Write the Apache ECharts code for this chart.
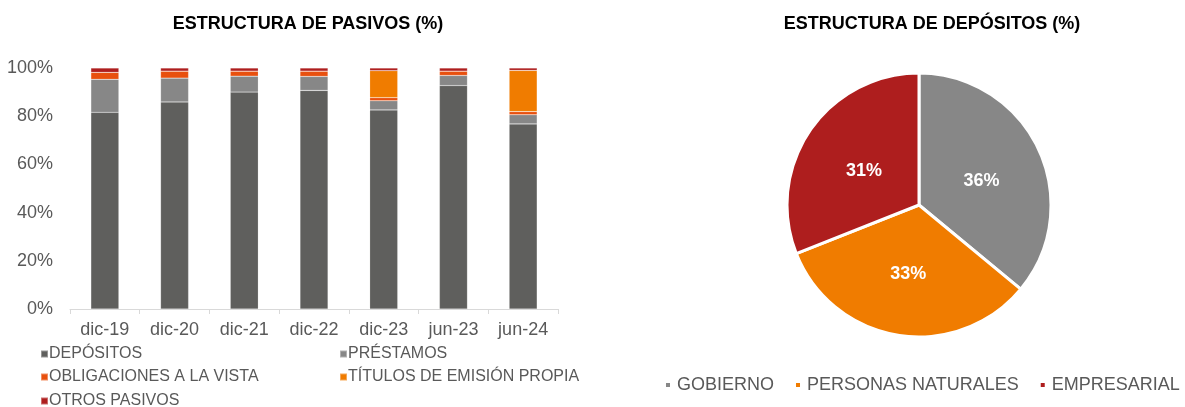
<!DOCTYPE html>
<html>
<head>
<meta charset="utf-8">
<script src="https://cdn.jsdelivr.net/npm/echarts@6/dist/echarts.min.js"></script>
<style>
  html, body { margin: 0; padding: 0; background: #fff; }
  #main { width: 1185px; height: 407px; }
</style>
</head>
<body>
<div id="main"></div>
<script>
// datos
var periodos = ['dic-19', 'dic-20', 'dic-21', 'dic-22', 'dic-23', 'jun-23', 'jun-24'];
var depositos = [81.6, 85.9, 90.0, 90.7, 82.6, 92.7, 76.8];
var prestamos = [13.7, 9.9, 6.6, 5.8, 3.8, 4.2, 3.8];
var obligaciones = [2.9, 2.9, 2.1, 2.2, 1.3, 1.8, 1.3];
var titulos = [0, 0, 0, 0, 11.2, 0, 17.1];
var otros = [1.8, 1.3, 1.3, 1.3, 1.1, 1.3, 1.0];

var tiposDeposito = ['GOBIERNO', 'PERSONAS NATURALES', 'EMPRESARIAL'];
var partDeposito = [36, 33, 31];

var myChart = echarts.init(document.getElementById('main'));

var font = 'Liberation Sans, Arial, sans-serif';
var colores = ['#5F5F5D', '#878787', '#E8500E', '#F07C00', '#AE1E1E'];
var nombres = ['DEPÓSITOS', 'PRÉSTAMOS', 'OBLIGACIONES A LA VISTA', 'TÍTULOS DE EMISIÓN PROPIA', 'OTROS PASIVOS'];
var valores = [depositos, prestamos, obligaciones, titulos, otros];

// leyenda de barras en dos columnas
var legendPos = [[40, 346], [339, 346], [40, 369], [339, 369], [40, 393]];
var legends = [];
for (var i in nombres) {
    legends.push({
        data: [nombres[i]],
        left: legendPos[i][0],
        top: legendPos[i][1],
        icon: 'rect',
        itemWidth: 7,
        itemHeight: 7,
        itemGap: 0,
        padding: 0,
        textStyle: { color: '#595959', fontSize: 16, fontFamily: font, padding: [0, 0, 0, -4] }
    });
}
legends.push({
    data: tiposDeposito,
    left: 664,
    top: 376,
    icon: 'rect',
    itemWidth: 6,
    itemHeight: 6,
    itemGap: 20,
    padding: 0,
    textStyle: { color: '#595959', fontSize: 18, fontFamily: font, padding: [0, 0, 0, 1] }
});

var series = [];
for (var j in nombres) {
    series.push({
        name: nombres[j],
        type: 'bar',
        stack: 'pasivos',
        barWidth: 28,
        itemStyle: { color: colores[j], borderColor: 'rgba(255,255,255,0.35)', borderWidth: 0.5 },
        data: valores[j]
    });
}

var pieData = [];
var pieColores = ['#878787', '#F07C00', '#AE1E1E'];
var pieOffset = [[0, 5], [0, 1], [2, 5]];
for (var k in tiposDeposito) {
    pieData.push({
        name: tiposDeposito[k],
        value: partDeposito[k],
        itemStyle: { color: pieColores[k] },
        label: { offset: pieOffset[k] }
    });
}
series.push({
    name: 'depositos',
    type: 'pie',
    center: [919, 205],
    radius: [0, 132],
    startAngle: 90,
    clockwise: true,
    itemStyle: { borderColor: '#fff', borderWidth: 3 },
    label: {
        position: 'inside',
        formatter: '{c}%',
        color: '#fff',
        fontSize: 18,
        fontWeight: 'bold',
        fontFamily: font
    },
    labelLine: { show: false },
    emphasis: { disabled: true },
    data: pieData
});

var option = {
    animation: false,
    title: [
        {
            text: 'ESTRUCTURA DE PASIVOS (%)',
            left: 303, top: 10, textAlign: 'center',
            textStyle: { color: '#000', fontSize: 18, fontWeight: 'bold', fontFamily: font }
        },
        {
            text: 'ESTRUCTURA DE DEPÓSITOS (%)',
            left: 927, top: 10, textAlign: 'center',
            textStyle: { color: '#000', fontSize: 18, fontWeight: 'bold', fontFamily: font }
        }
    ],
    legend: legends,
    grid: { left: 70, top: 68, width: 488, height: 241 },
    xAxis: {
        type: 'category',
        data: periodos,
        axisLine: { lineStyle: { color: '#D9D9D9' } },
        axisTick: { show: true, length: 5, lineStyle: { color: '#D9D9D9' } },
        axisLabel: { color: '#595959', fontSize: 18, fontFamily: font, margin: 12 }
    },
    yAxis: {
        type: 'value',
        min: 0,
        max: 100,
        interval: 20,
        splitLine: { show: false },
        axisLabel: { color: '#595959', fontSize: 18, fontFamily: font, formatter: '{value}%', margin: 17 }
    },
    series: series
};
myChart.setOption(option);
</script>
</body>
</html>
